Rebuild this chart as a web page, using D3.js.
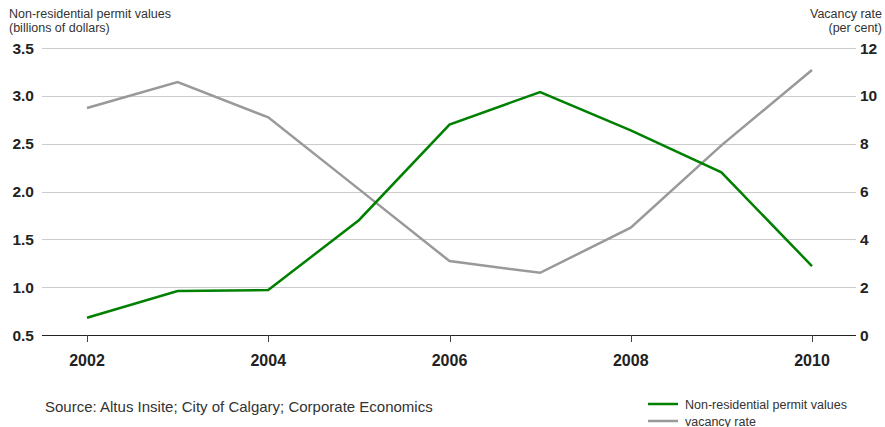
<!DOCTYPE html>
<html>
<head>
<meta charset="utf-8">
<script src="https://cdn.jsdelivr.net/npm/d3@7"></script>
<style>
  html, body { margin: 0; padding: 0; background: #fff; }
  svg { display: block; font-family: "Liberation Sans", Arial, sans-serif; }
</style>
</head>
<body>
<svg id="chart" width="885" height="427"></svg>
<script>
// Calgary non-residential permit values vs. office vacancy rate
const years = [2002, 2003, 2004, 2005, 2006, 2007, 2008, 2009, 2010];
const permitValues = [0.68, 0.96, 0.97, 1.70, 2.70, 3.04, 2.64, 2.20, 1.22];
const vacancyRate = [9.49, 10.58, 9.10, 6.10, 3.09, 2.60, 4.49, 7.93, 11.08];
const leftTicks = [0.5, 1.0, 1.5, 2.0, 2.5, 3.0, 3.5];
const rightTicks = [0, 2, 4, 6, 8, 10, 12];
const xTicks = [2002, 2004, 2006, 2008, 2010];

const svg = d3.select("#chart");
const plot = { left: 42, right: 856, top: 48, bottom: 335 };

const x = d3.scaleLinear().domain([2002, 2010]).range([87, 812]);
const yL = d3.scaleLinear().domain([0.5, 3.5]).range([plot.bottom, plot.top]);
const yR = d3.scaleLinear().domain([0, 12]).range([plot.bottom, plot.top]);

// Horizontal gridlines
svg.append("g").selectAll("line")
  .data(leftTicks.slice(1))
  .join("line")
  .attr("x1", plot.left).attr("x2", plot.right)
  .attr("y1", d => Math.round(yL(d)) + 0.5).attr("y2", d => Math.round(yL(d)) + 0.5)
  .attr("stroke", "#cccccc").attr("stroke-width", 1);

// Left axis labels
svg.append("g").selectAll("text")
  .data(leftTicks)
  .join("text")
  .attr("x", 34).attr("y", d => yL(d))
  .attr("dy", "0.36em")
  .attr("text-anchor", "end")
  .attr("font-size", 15.5).attr("font-weight", "bold").attr("fill", "#222")
  .text(d => d3.format(".1f")(d));

// Right axis labels
svg.append("g").selectAll("text")
  .data(rightTicks)
  .join("text")
  .attr("x", 860).attr("y", d => yR(d))
  .attr("dy", "0.36em")
  .attr("text-anchor", "start")
  .attr("font-size", 15.5).attr("font-weight", "bold").attr("fill", "#222")
  .text(d => d);

// Baseline with year ticks
svg.append("line")
  .attr("x1", plot.left).attr("x2", plot.right)
  .attr("y1", plot.bottom + 0.5).attr("y2", plot.bottom + 0.5)
  .attr("stroke", "#222").attr("stroke-width", 1);

svg.append("g").selectAll("line")
  .data(xTicks)
  .join("line")
  .attr("x1", d => Math.round(x(d)) + 0.5).attr("x2", d => Math.round(x(d)) + 0.5)
  .attr("y1", plot.bottom).attr("y2", plot.bottom + 7)
  .attr("stroke", "#444").attr("stroke-width", 1);

svg.append("g").selectAll("text")
  .data(xTicks)
  .join("text")
  .attr("x", d => x(d)).attr("y", 366)
  .attr("text-anchor", "middle")
  .attr("font-size", 16).attr("font-weight", "bold").attr("fill", "#222")
  .text(d => d);

// Axis titles
const leftTitle = svg.append("text").attr("font-size", 12.5).attr("fill", "#333");
leftTitle.append("tspan").attr("x", 9).attr("y", 18).text("Non-residential permit values");
leftTitle.append("tspan").attr("x", 9).attr("y", 32).text("(billions of dollars)");

const rightTitle = svg.append("text").attr("font-size", 12.5).attr("fill", "#333").attr("text-anchor", "end");
rightTitle.append("tspan").attr("x", 882).attr("y", 18).text("Vacancy rate");
rightTitle.append("tspan").attr("x", 882).attr("y", 32).text("(per cent)");

// Series lines
const vacancyLine = d3.line().x((d, i) => x(years[i])).y(d => yR(d));
const permitLine = d3.line().x((d, i) => x(years[i])).y(d => yL(d));

svg.append("path")
  .datum(vacancyRate)
  .attr("d", vacancyLine)
  .attr("fill", "none").attr("stroke", "#999999").attr("stroke-width", 2.5);

svg.append("path")
  .datum(permitValues)
  .attr("d", permitLine)
  .attr("fill", "none").attr("stroke", "#008000").attr("stroke-width", 2.5);

// Source note
svg.append("text")
  .attr("x", 45).attr("y", 412)
  .attr("font-size", 15).attr("fill", "#333")
  .text("Source: Altus Insite; City of Calgary; Corporate Economics");

// Legend
const legend = [
  { label: "Non-residential permit values", color: "#008000" },
  { label: "vacancy rate", color: "#999999" }
];
const lg = svg.append("g").selectAll("g")
  .data(legend)
  .join("g")
  .attr("transform", (d, i) => `translate(648, ${404 + i * 17})`);
lg.append("line")
  .attr("x1", 0).attr("x2", 30).attr("y1", 0).attr("y2", 0)
  .attr("stroke", d => d.color).attr("stroke-width", 2.5);
lg.append("text")
  .attr("x", 37).attr("y", 0).attr("dy", "0.36em")
  .attr("font-size", 12.5).attr("fill", "#333")
  .text(d => d.label);
</script>
</body>
</html>
